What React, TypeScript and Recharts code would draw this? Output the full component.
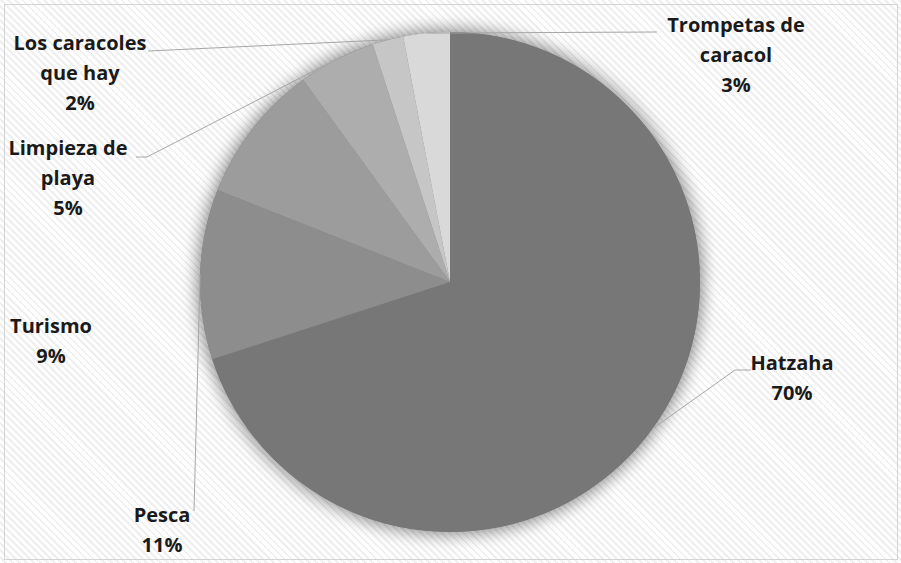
import { PieChart, Pie, Cell } from 'recharts';

const categories = ['Hatzaha', 'Pesca', 'Turismo', 'Limpieza de playa', 'Los caracoles que hay', 'Trompetas de caracol'];
const shares = [70, 11, 9, 5, 2, 3];
const sliceColors = ['#777777', '#8d8d8d', '#9c9c9c', '#adadad', '#c6c6c6', '#d9d9d9'];

const data = categories.map((name, i) => ({ name, value: shares[i] }));
const total = [{ name: 'total', value: shares.reduce((a, b) => a + b, 0) }];

// where each data label sits (centre x, first baseline) and how its leader line bends
const labelLayout = [
  { x: 792, y: 370, lines: ['Hatzaha'], leader: [[735, 370], [751, 370]] },
  { x: 162, y: 522, lines: ['Pesca'], leader: [[194, 511]] },
  { x: 51, y: 333, lines: ['Turismo'], leader: null },
  { x: 68, y: 155, lines: ['Limpieza de', 'playa'], leader: [[147, 157], [136, 157]] },
  { x: 80, y: 50, lines: ['Los caracoles', 'que hay'], leader: [[148, 51]] },
  { x: 736, y: 32, lines: ['Trompetas de', 'caracol'], leader: [[657, 32]] },
];

const FONT = '"Open Sans", "Liberation Sans", sans-serif';
const RAD = Math.PI / 180;

function renderLabel(props: any) {
  const { cx, cy, midAngle, outerRadius, index, value } = props;
  const lay = labelLayout[index];
  if (!lay) return null;
  const sx = cx + outerRadius * Math.cos(-midAngle * RAD);
  const sy = cy + outerRadius * Math.sin(-midAngle * RAD);
  const rows = [...lay.lines, `${value}%`];
  return (
    <g key={`lbl-${index}`}>
      {lay.leader && (
        <polyline
          points={[[sx, sy], ...lay.leader].map((p) => p.join(',')).join(' ')}
          fill="none"
          stroke="#a6a6a6"
          strokeWidth={1}
        />
      )}
      {rows.map((r, i) => (
        <text
          key={i}
          x={lay.x}
          y={lay.y + i * 30}
          textAnchor="middle"
          fill="#1a1a1a"
          fontFamily={FONT}
          fontWeight={700}
          fontSize={20}
        >
          {r}
        </text>
      ))}
    </g>
  );
}

export default function App() {
  return (
    <div
      style={{
        position: 'absolute',
        left: 0,
        top: 0,
        width: 901,
        height: 563,
        background: 'repeating-linear-gradient(45deg, #ffffff 0px, #ffffff 3px, #efefef 3px, #efefef 5px)',
      }}
    >
      <style>{`.pie-glow { filter: drop-shadow(0 0 9px rgba(0,0,0,0.3)); }`}</style>
      <div
        style={{
          position: 'absolute',
          left: 4,
          top: 4,
          width: 892,
          height: 554,
          border: '1px solid #d4d4d4',
        }}
      />
      <PieChart
        width={901}
        height={563}
        margin={{ top: 0, right: 0, bottom: 0, left: 0 }}
        style={{ position: 'absolute', left: 0, top: 0 }}
      >
        <Pie
          data={total}
          dataKey="value"
          cx={450}
          cy={282}
          outerRadius={250}
          startAngle={90}
          endAngle={-270}
          fill="#777777"
          stroke="none"
          className="pie-glow"
          isAnimationActive={false}
        />
        <Pie
          data={data}
          dataKey="value"
          nameKey="name"
          cx={450}
          cy={282}
          outerRadius={250}
          startAngle={90}
          endAngle={-270}
          stroke="none"
          label={renderLabel}
          labelLine={false}
          isAnimationActive={false}
        >
          {data.map((d, i) => (
            <Cell key={d.name} fill={sliceColors[i]} />
          ))}
        </Pie>
      </PieChart>
    </div>
  );
}
